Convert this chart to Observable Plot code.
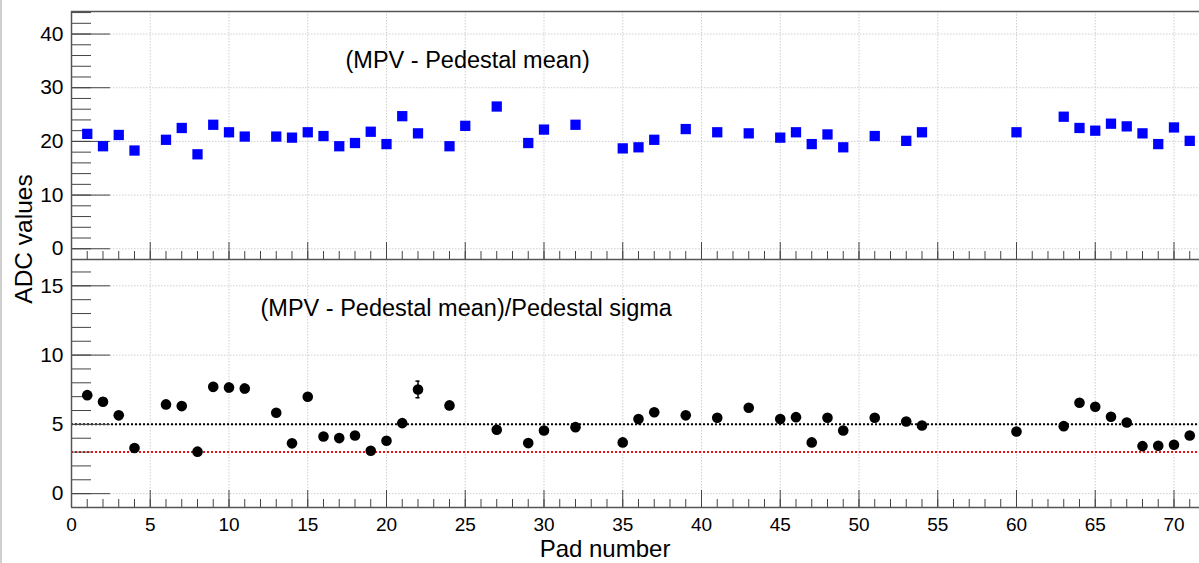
<!DOCTYPE html>
<html><head><meta charset="utf-8">
<script src="https://cdn.jsdelivr.net/npm/d3@7"></script>
<script src="https://cdn.jsdelivr.net/npm/@observablehq/plot@0.6"></script>
<style>
html,body{margin:0;padding:0;background:#fff;overflow:hidden;}
#wrap{position:relative;width:1199px;height:563px;font-family:"Liberation Sans",Arial,Helvetica,sans-serif;color:#000;}
#topPanel,#botPanel{position:absolute;left:0;}
#topPanel{top:0;} #botPanel{top:259px;}
#ylab{position:absolute;left:24px;top:239px;transform:translate(-50%,-50%) rotate(-90deg);font-size:24.5px;white-space:nowrap;}
#xlab{position:absolute;left:605px;top:549px;transform:translate(-50%,-50%);font-size:24px;white-space:nowrap;}
#border{position:absolute;left:0;top:0;width:2px;height:563px;background:#cfcfcf;}
</style></head>
<body><div id="wrap"><div id="border"></div><div id="topPanel"></div><div id="botPanel"></div><div id="ylab">ADC values</div><div id="xlab">Pad number</div></div>
<script>
// Top panel: (MPV - Pedestal mean)
const padsTop = [1,2,3,4,6,7,8,9,10,11,13,14,15,16,17,18,19,20,21,22,24,25,27,29,30,32,35,36,37,39,41,43,45,46,47,48,49,51,53,54,60,63,64,65,66,67,68,69,70,71];
const adcTop  = [21.4,19.1,21.2,18.3,20.3,22.5,17.6,23.1,21.7,20.9,20.9,20.7,21.7,21.0,19.1,19.7,21.8,19.5,24.7,21.5,19.1,22.9,26.5,19.7,22.2,23.1,18.7,18.9,20.3,22.3,21.7,21.5,20.7,21.7,19.5,21.3,18.9,21.0,20.1,21.7,21.7,24.6,22.5,22.0,23.3,22.8,21.5,19.5,22.6,20.1];
// Bottom panel: (MPV - Pedestal mean)/Pedestal sigma
const padsBot  = [1,2,3,4,6,7,8,9,10,11,13,14,15,16,17,18,19,20,21,22,24,27,29,30,32,35,36,37,39,41,43,45,46,47,48,49,51,53,54,60,63,64,65,66,67,68,69,70,71];
const ratioBot = [7.11,6.63,5.65,3.29,6.44,6.32,3.03,7.71,7.66,7.59,5.84,3.63,6.99,4.13,4.01,4.20,3.10,3.82,5.09,7.52,6.37,4.61,3.65,4.56,4.80,3.70,5.38,5.88,5.65,5.48,6.20,5.38,5.52,3.70,5.48,4.56,5.48,5.21,4.92,4.49,4.87,6.56,6.27,5.55,5.14,3.43,3.46,3.53,4.20];
const ratioErr = [0.25,0.25,0.2,0.15,0.25,0.25,0.15,0.3,0.3,0.3,0.2,0.15,0.25,0.15,0.15,0.15,0.15,0.15,0.2,0.6,0.25,0.2,0.15,0.2,0.2,0.15,0.2,0.2,0.2,0.2,0.25,0.2,0.2,0.15,0.2,0.2,0.2,0.2,0.2,0.2,0.2,0.25,0.25,0.2,0.2,0.15,0.15,0.15,0.15];
const thresholds = [5, 3];
const thresholdColors = ["#000000", "#ee1111"];
const xMajor = [0,5,10,15,20,25,30,35,40,45,50,55,60,65,70];
const xMinor = d3.range(0, 72, 1);
const yMajorTop = [0,10,20,30,40];
const yMinorTop = d3.range(-2, 45, 2);
const yMajorBot = [0,5,10,15];
const yMinorBot = d3.range(-1, 17, 1);
const labelTop = "(MPV - Pedestal mean)";
const labelBot = "(MPV - Pedestal mean)/Pedestal sigma";

const W = 1199, ML = 71, PH = 248, PW = W - ML;
const xDomain = [0, 71.62];
const font = "Liberation Sans, Arial, Helvetica, sans-serif";
const axisCol = "#444";
const gridCol = "#cfcfcf";

const topData = padsTop.map((p, i) => ({pad: p, v: adcTop[i]}));
const botData = padsBot.map((p, i) => ({pad: p, v: ratioBot[i], e: ratioErr[i]}));

function gridMarks(yMajor) {
  return [
    Plot.ruleX(xMajor.filter(d => d > 0), {x: d => d, stroke: gridCol, strokeDasharray: "1.5,1.5"}),
    Plot.ruleY(yMajor, {y: d => d, stroke: gridCol, strokeDasharray: "1.5,1.5"}),
  ];
}
function tickMarks(yMajor, yMinor, yDomain) {
  return [
    Plot.tickX(xMinor, {x: d => d, stroke: axisCol, insetTop: PH - 8}),
    Plot.tickX(xMajor, {x: d => d, stroke: axisCol, insetTop: PH - 17}),
    Plot.tickY(yMinor, {y: d => d, stroke: axisCol, insetRight: PW - 20}),
    Plot.tickY(yMajor, {y: d => d, stroke: axisCol, insetRight: PW - 39}),
    Plot.ruleX([xDomain[0]], {x: d => d, stroke: "#555", strokeWidth: 1.5}),
    Plot.ruleY([yDomain[0], yDomain[1]], {y: d => d, stroke: "#555", strokeWidth: 1.5}),
  ];
}

// top panel
const yDomTop = [-2, 44.2];
const topPlot = Plot.plot({
  width: W, height: 259, marginLeft: ML, marginRight: 0, marginTop: 11, marginBottom: 0,
  style: {fontFamily: font, background: "transparent"},
  x: {domain: xDomain, axis: null},
  y: {domain: yDomTop, axis: null},
  marks: [
    ...gridMarks(yMajorTop),
    ...tickMarks(yMajorTop, yMinorTop, yDomTop),
    Plot.axisY({ticks: yMajorTop, tickSize: 0, tickPadding: 8, fontSize: 21, label: null, fill: "#000"}),
    Plot.dot(topData, {x: "pad", y: "v", symbol: "square", r: 5.8, fill: "#0000ff", stroke: null}),
    Plot.text([labelTop], {text: d => d, frameAnchor: "top-left", dx: 274, dy: 49, textAnchor: "start", lineAnchor: "middle", fontSize: 23.5, fill: "#000"})
  ]
});
document.getElementById("topPanel").appendChild(topPlot);

// bottom panel
const yDomBot = [-1, 16.9];
const botPlot = Plot.plot({
  width: W, height: 304, marginLeft: ML, marginRight: 0, marginTop: 0, marginBottom: 56,
  style: {fontFamily: font, background: "transparent"},
  x: {domain: xDomain, axis: null},
  y: {domain: yDomBot, axis: null},
  marks: [
    ...gridMarks(yMajorBot),
    ...thresholds.map((t, i) => Plot.ruleY([t], {y: d => d, stroke: thresholdColors[i], strokeWidth: 2, strokeDasharray: "2,2"})),
    ...tickMarks(yMajorBot, yMinorBot, yDomBot),
    Plot.axisY({ticks: yMajorBot, tickSize: 0, tickPadding: 8, fontSize: 21, label: null, fill: "#000"}),
    Plot.axisX({ticks: xMajor, tickSize: 0, tickPadding: 10, fontSize: 19, label: null, fill: "#000"}),
    Plot.ruleX(botData, {x: "pad", y1: d => d.v - d.e, y2: d => d.v + d.e, stroke: "#000", strokeWidth: 1.5}),
    Plot.ruleY(botData, {y: d => d.v + d.e, x1: d => d.pad - 0.13, x2: d => d.pad + 0.13, stroke: "#000", strokeWidth: 1.5}),
    Plot.ruleY(botData, {y: d => d.v - d.e, x1: d => d.pad - 0.13, x2: d => d.pad + 0.13, stroke: "#000", strokeWidth: 1.5}),
    Plot.dot(botData, {x: "pad", y: "v", r: 5.3, fill: "#000", stroke: null}),
    Plot.text([labelBot], {text: d => d, frameAnchor: "top-left", dx: 189, dy: 49, textAnchor: "start", lineAnchor: "middle", fontSize: 23.5, fill: "#000"})
  ]
});
document.getElementById("botPanel").appendChild(botPlot);
</script>
</body></html>
